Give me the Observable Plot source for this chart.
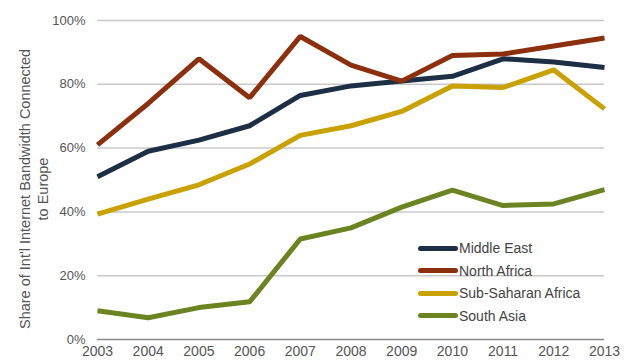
<!DOCTYPE html>
<html>
<head>
<meta charset="utf-8">
<script src="https://cdn.jsdelivr.net/npm/d3@7"></script>
<script src="https://cdn.jsdelivr.net/npm/@observablehq/plot@0.6"></script>
<style>
  html, body { margin: 0; padding: 0; background: #fff; }
  #wrap { position: relative; width: 640px; height: 360px; font-family: "Liberation Sans", Arial, sans-serif; }
  #ylabel { position: absolute; left: 34px; top: 189px; transform: translate(-50%, -50%) rotate(-90deg); white-space: nowrap; text-align: center; font-size: 14.5px; line-height: 18px; color: #555; }
  #legend { position: absolute; left: 418px; top: 237px; font-size: 14px; color: #444; }
  #legend .row { display: flex; align-items: center; height: 22.5px; }
  #legend .sw { width: 40px; height: 5px; border-radius: 3px; margin-right: 1px; }
</style>
</head>
<body>
<div id="wrap">
  <div id="chart"></div>
  <div id="ylabel">Share of Int'l Internet Bandwidth Connected<br>to Europe</div>
  <div id="legend"></div>
</div>
<script>
const years = [2003, 2004, 2005, 2006, 2007, 2008, 2009, 2010, 2011, 2012, 2013];
const seriesNames = ["Middle East", "North Africa", "Sub-Saharan Africa", "South Asia"];
const seriesColors = ["#1c2f45", "#8c2f0c", "#c9a100", "#6c8322"];
const middleEast = [51, 59, 62.5, 67, 76.5, 79.5, 81, 82.5, 88, 87, 85.3];
const northAfrica = [61, 74, 88, 75.8, 95, 86, 81, 89, 89.5, 92, 94.5];
const subSaharan = [39.3, 44, 48.5, 55, 64, 67, 71.5, 79.5, 79, 84.5, 72.3];
const southAsia = [9, 6.8, 10, 11.8, 31.5, 35, 41.5, 46.8, 42, 42.5, 47];
const yTicks = [0, 20, 40, 60, 80, 100];

const allValues = [middleEast, northAfrica, subSaharan, southAsia];
const data = [];
seriesNames.forEach((name, i) => {
  years.forEach((yr, j) => data.push({series: name, year: yr, value: allValues[i][j]}));
});

const chart = Plot.plot({
  width: 640,
  height: 360,
  marginLeft: 97,
  marginRight: 36,
  marginTop: 20,
  marginBottom: 21,
  style: { fontFamily: "Liberation Sans, Arial, sans-serif", fontSize: "14px", color: "#555", background: "#fff" },
  x: { domain: [2003, 2013], label: null },
  y: { domain: [0, 100], label: null },
  color: { domain: seriesNames, range: seriesColors },
  marks: [
    Plot.ruleY(yTicks.filter(d => d > 0), { stroke: "#c8c8c8", strokeWidth: 1.5 }),
    Plot.ruleY([0], { stroke: "#8a8a8a", strokeWidth: 1.5 }),
    Plot.axisX({ ticks: years, tickFormat: d => String(d), tickSize: 0, tickPadding: 7, fill: "#555", fontSize: 14, label: null }),
    Plot.axisY({ ticks: yTicks, tickFormat: d => d + "%", tickSize: 0, tickPadding: 12, fill: "#555", fontSize: 13, label: null }),
    Plot.line(data, { x: "year", y: "value", z: "series", stroke: "series", strokeWidth: 5, strokeLinejoin: "miter", strokeLinecap: "butt" })
  ]
});
document.getElementById("chart").appendChild(chart);

const legend = document.getElementById("legend");
seriesNames.forEach((name, i) => {
  const row = document.createElement("div");
  row.className = "row";
  const sw = document.createElement("div");
  sw.className = "sw";
  sw.style.background = seriesColors[i];
  const t = document.createElement("span");
  t.textContent = name;
  row.appendChild(sw);
  row.appendChild(t);
  legend.appendChild(row);
});
</script>
</body>
</html>
